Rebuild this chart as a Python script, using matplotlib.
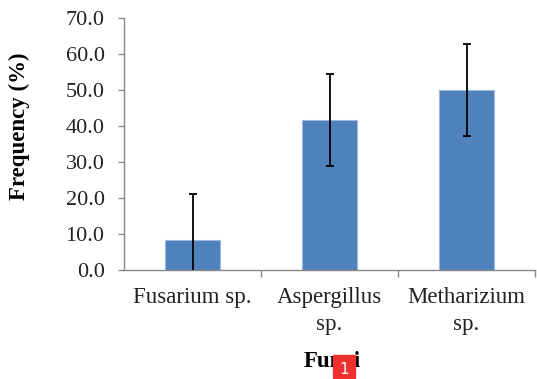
import matplotlib
matplotlib.use("Agg")
from matplotlib import pyplot as plt
from matplotlib.patches import Rectangle

categories = ["Fusarium sp.", "Aspergillus\nsp.", "Metharizium\nsp."]
frequency = [8.3, 41.7, 50.0]
error = [12.7, 12.7, 12.7]
y_ticks = [0, 10, 20, 30, 40, 50, 60, 70]

plt.rcParams["font.family"] = ["Liberation Serif", "DejaVu Serif"]

fig = plt.figure(figsize=(5.37, 3.79), dpi=100)
ax = fig.add_axes([124 / 537, 109 / 379, 411 / 537, 252 / 379])

x = range(len(categories))
ax.bar(x, frequency, width=0.4, color="#4F81BD", edgecolor="#9CB9E0", linewidth=0.8, zorder=2)
ax.errorbar(x, frequency, yerr=error, fmt="none", ecolor="black", elinewidth=1.3,
            capsize=3, capthick=1.3, zorder=3)

ax.set_xlim(-0.5, 2.5)
ax.set_ylim(0, 70)
ax.set_yticks(y_ticks)
ax.set_yticklabels([f"{v:.1f}" for v in y_ticks], fontsize=16, color="#222222")

ax.set_xticks([0.5, 1.5, 2.5])
ax.set_xticklabels([])
ax.set_xticks(list(x), minor=True)
ax.set_xticklabels(categories, minor=True, fontsize=16.5, linespacing=1.4, color="#222222")
ax.tick_params(axis="x", which="minor", length=0, pad=12)
ax.tick_params(axis="x", which="major", length=5, color="#888888", width=1)
ax.tick_params(axis="y", length=4, color="#888888", width=1, pad=10)

for s in ["top", "right"]:
    ax.spines[s].set_visible(False)
for s in ["left", "bottom"]:
    ax.spines[s].set_color("#888888")
    ax.spines[s].set_linewidth(1)

ax.set_ylabel("Frequency (%)", fontsize=16.5, fontweight="bold", va="center")
ax.yaxis.set_label_coords(-0.255, 0.57)
fig.text(332 / 537, 1 - 362 / 379, "Fungi", fontsize=16.5, fontweight="bold",
         ha="center", va="center")

# red marker box over the axis title
fig.patches.append(Rectangle((333 / 537, 1 - 378 / 379), 22 / 537, 23 / 379,
                             transform=fig.transFigure, color="#F03030", zorder=5))
fig.text(344 / 537, 1 - 369 / 379, "1", fontsize=11, color="white", ha="center",
         va="center", zorder=6, family="DejaVu Sans")

fig.savefig("out.png", dpi=100)
